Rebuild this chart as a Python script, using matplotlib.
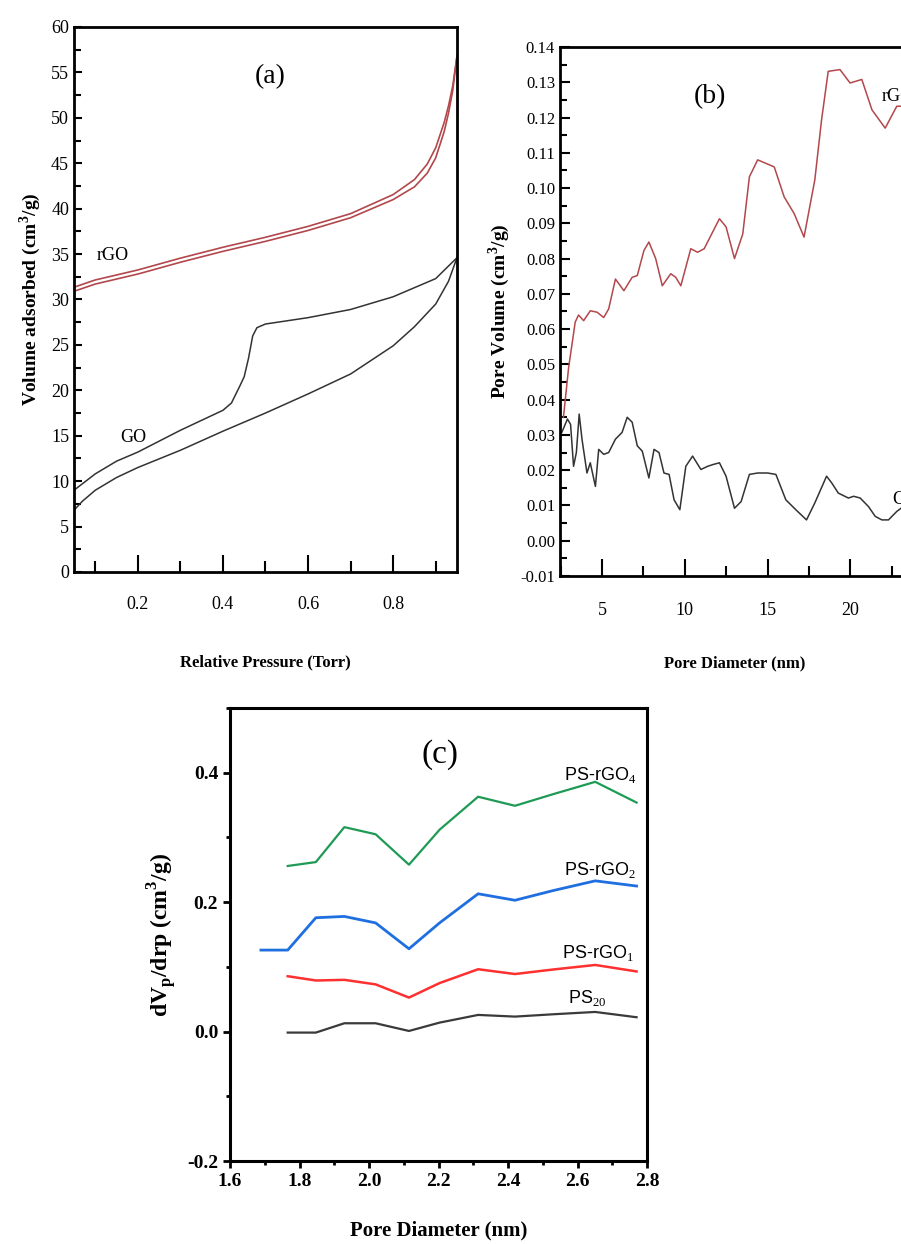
import matplotlib
matplotlib.use("Agg")
import matplotlib.pyplot as plt
from matplotlib.ticker import MultipleLocator

# ---- panel (a): N2 isotherms ----
rgo_x = [0.05, 0.1, 0.2, 0.3, 0.4, 0.5, 0.6, 0.7, 0.8, 0.85, 0.88, 0.9, 0.92, 0.93, 0.94, 0.95]
rgo_ads = [30.9, 31.7, 32.8, 34.1, 35.3, 36.4, 37.6, 39.0, 41.0, 42.4, 43.9, 45.6, 48.5, 50.5, 53.0, 56.8]
rgo_des = [31.35, 32.15, 33.25, 34.55, 35.75, 36.85, 38.05, 39.45, 41.55, 43.2, 44.9, 46.7, 49.5, 51.3, 53.5, 56.8]

go_ads_x = [0.05, 0.07, 0.1, 0.15, 0.2, 0.3, 0.4, 0.5, 0.6, 0.7, 0.8, 0.85, 0.9, 0.93, 0.95]
go_ads = [6.8, 7.8, 9.0, 10.4, 11.5, 13.4, 15.5, 17.5, 19.6, 21.8, 24.9, 27.0, 29.5, 32.0, 34.6]
go_des_x = [0.05, 0.1, 0.15, 0.2, 0.3, 0.4, 0.42, 0.44, 0.45, 0.46, 0.47, 0.48, 0.5, 0.6, 0.7, 0.8, 0.9, 0.95]
go_des = [9.0, 10.8, 12.2, 13.2, 15.6, 17.8, 18.6, 20.5, 21.5, 23.5, 26.0, 26.9, 27.3, 28.0, 28.9, 30.3, 32.3, 34.6]

# ---- panel (b): pore size distribution ----
b_rgo_x = [2.67, 2.98, 3.38, 3.58, 3.89, 4.29, 4.70, 5.1, 5.4, 5.81, 6.32, 6.82, 7.13, 7.53, 7.83,
           8.24, 8.64, 9.15, 9.45, 9.76, 10.36, 10.77, 11.17, 11.58, 12.09, 12.49, 13.0, 13.5, 13.9,
           14.4, 14.9, 15.4, 16.0, 16.6, 17.2, 17.85, 18.26, 18.66, 19.37, 19.98, 20.69, 21.3, 22.1,
           22.8, 23.2]
b_rgo_y = [0.035, 0.049, 0.062, 0.064, 0.0624, 0.0652, 0.0648, 0.0633, 0.0657, 0.0742, 0.0709,
           0.0747, 0.0752, 0.0823, 0.0847, 0.080, 0.0723, 0.0757, 0.0747, 0.0723, 0.0828, 0.0818,
           0.0828, 0.0866, 0.0913, 0.089, 0.080, 0.087, 0.1032, 0.108, 0.107, 0.106, 0.0975, 0.0928,
           0.0861, 0.1023, 0.1194, 0.1331, 0.1336, 0.1298, 0.1308, 0.1222, 0.117, 0.1232, 0.1232]

b_go_x = [2.57, 2.91, 3.1, 3.28, 3.45, 3.62, 3.79, 4.09, 4.29, 4.6, 4.8, 5.1, 5.4, 5.81, 6.21, 6.52,
          6.82, 7.13, 7.43, 7.83, 8.14, 8.44, 8.74, 9.05, 9.35, 9.7, 10.06, 10.47, 10.97, 11.38,
          11.7, 12.09, 12.49, 13.0, 13.4, 13.9, 14.4, 15.0, 15.5, 16.1, 16.7, 17.35, 17.85, 18.56,
          18.87, 19.27, 19.88, 20.2, 20.59, 21.09, 21.5, 21.9, 22.3, 22.8, 23.2]
b_go_y = [0.0307, 0.0345, 0.033, 0.0211, 0.025, 0.0359, 0.0288, 0.0192, 0.0221, 0.0154, 0.0259,
          0.0245, 0.025, 0.0288, 0.0307, 0.035, 0.0336, 0.0269, 0.0254, 0.0178, 0.0259, 0.025,
          0.0192, 0.0188, 0.0116, 0.0088, 0.0211, 0.024, 0.0202, 0.0211, 0.0216, 0.0221, 0.0183,
          0.0092, 0.0111, 0.0188, 0.0192, 0.0192, 0.0188, 0.0116, 0.0088, 0.0059, 0.0107, 0.0183,
          0.0164, 0.0135, 0.0121, 0.0126, 0.0121, 0.0097, 0.0069, 0.0059, 0.0059, 0.0083, 0.0097]

# ---- panel (c): dVp/drp ----
c_x = [1.766, 1.847, 1.929, 2.019, 2.115, 2.203, 2.314, 2.42, 2.53, 2.651, 2.77]
c_x_rgo2 = [1.689] + c_x
ps_rgo4 = [0.256, 0.262, 0.316, 0.305, 0.258, 0.312, 0.363, 0.349, 0.367, 0.386, 0.354]
ps_rgo2 = [0.126, 0.126, 0.176, 0.178, 0.168, 0.128, 0.168, 0.213, 0.203, 0.218, 0.233, 0.225]
ps_rgo1 = [0.0856, 0.079, 0.080, 0.073, 0.0526, 0.075, 0.0964, 0.089, 0.096, 0.103, 0.093]
ps20 = [-0.0015, -0.0015, 0.0129, 0.0129, 0.001, 0.0139, 0.0258, 0.0232, 0.0268, 0.0304, 0.0222]

SERIF = "Liberation Serif"
SANS = ["Liberation Sans Narrow", "Liberation Sans", "DejaVu Sans"]
plt.rcParams["font.family"] = [SERIF, "DejaVu Serif"]
plt.rcParams["axes.unicode_minus"] = False
plt.rcParams["mathtext.fontset"] = "custom"
plt.rcParams["mathtext.rm"] = SERIF
plt.rcParams["mathtext.bf"] = SERIF + ":bold"

fig = plt.figure(figsize=(9.01, 12.44), dpi=100)

# ----- (a) -----
ax_a = fig.add_axes([0.0821, 0.5402, 0.4251, 0.4381])
rgo_col = "#b2474c"
ax_a.plot(rgo_x, rgo_ads, color=rgo_col, lw=1.2)
ax_a.plot(rgo_x, rgo_des, color=rgo_col, lw=1.2)
ax_a.plot(go_ads_x, go_ads, color="#333333", lw=1.1)
ax_a.plot(go_des_x, go_des, color="#333333", lw=1.1)
ax_a.set_xlim(0.05, 0.95)
ax_a.set_ylim(0, 60)
ax_a.xaxis.set_major_locator(MultipleLocator(0.2))
ax_a.xaxis.set_minor_locator(MultipleLocator(0.1))
ax_a.yaxis.set_major_locator(MultipleLocator(5))
ax_a.yaxis.set_minor_locator(MultipleLocator(2.5))
ax_a.tick_params(axis="x", which="major", direction="in", length=12, width=1.5, labelsize=13, pad=17)
ax_a.tick_params(axis="x", which="minor", direction="in", length=8, width=1.5)
ax_a.tick_params(axis="y", which="major", direction="in", length=6, width=1.5, labelsize=13)
ax_a.tick_params(axis="y", which="minor", direction="in", length=5, width=1.5)
ax_a.set_xticks([0.2, 0.4, 0.6, 0.8])
ax_a.set_xticklabels(["0.2", "0.4", "0.6", "0.8"])
for s in ax_a.spines.values():
    s.set_linewidth(2)
ax_a.text(0.51, 54.5, "(a)", fontsize=20, ha="center", va="center")
ax_a.text(0.14, 34.8, "rGO", fontsize=13, ha="center", va="center")
ax_a.text(0.19, 14.8, "GO", fontsize=13, ha="center", va="center")
ax_a.set_xlabel("Relative Pressure (Torr)", fontsize=12, fontweight="bold", labelpad=30)
ax_a.set_ylabel("Volume adsorbed (cm$^\\mathbf{3}$/g)", fontsize=14, fontweight="bold", labelpad=6)

# ----- (b) -----
ax_b = fig.add_axes([0.6215, 0.5370, 0.3885, 0.4252])
ax_b.plot(b_rgo_x, b_rgo_y, color="#b2474c", lw=1.1)
ax_b.plot(b_go_x, b_go_y, color="#333333", lw=1.1)
ax_b.set_xlim(2.46, 23.6)
ax_b.set_ylim(-0.01, 0.14)
ax_b.xaxis.set_major_locator(MultipleLocator(5))
ax_b.xaxis.set_minor_locator(MultipleLocator(2.5))
ax_b.yaxis.set_major_locator(MultipleLocator(0.01))
ax_b.yaxis.set_minor_locator(MultipleLocator(0.005))
ax_b.yaxis.set_major_formatter(plt.FuncFormatter(lambda v, p: f"{v:.2f}"))
ax_b.tick_params(axis="x", which="major", direction="in", length=12, width=1.5, labelsize=13, pad=19)
ax_b.tick_params(axis="x", which="minor", direction="in", length=7, width=1.5)
ax_b.tick_params(axis="y", which="major", direction="in", length=7, width=1.5, labelsize=12)
ax_b.tick_params(axis="y", which="minor", direction="in", length=5, width=1.5)
for s in ax_b.spines.values():
    s.set_linewidth(2)
ax_b.text(11.5, 0.126, "(b)", fontsize=20, ha="center", va="center")
ax_b.text(21.9, 0.126, "rGO", fontsize=13, ha="left", va="center")
ax_b.text(22.5, 0.0116, "GO", fontsize=13, ha="left", va="center")
ax_b.set_xlabel("Pore Diameter (nm)", fontsize=12, fontweight="bold", labelpad=26)
ax_b.set_ylabel("Pore Volume (cm$^\\mathbf{3}$/g)", fontsize=14, fontweight="bold", labelpad=6)

# ----- (c) -----
ax_c = fig.add_axes([0.2553, 0.0667, 0.4628, 0.3641])
ax_c.plot(c_x, ps_rgo4, color="#1f9a55", lw=1.6)
ax_c.plot(c_x_rgo2, ps_rgo2, color="#1f6fe0", lw=2.0)
ax_c.plot(c_x, ps_rgo1, color="#ff3030", lw=1.8)
ax_c.plot(c_x, ps20, color="#3a3a3a", lw=1.6)
ax_c.set_xlim(1.6, 2.8)
ax_c.set_ylim(-0.2, 0.5)
ax_c.xaxis.set_major_locator(MultipleLocator(0.2))
ax_c.xaxis.set_minor_locator(MultipleLocator(0.1))
ax_c.yaxis.set_major_locator(MultipleLocator(0.2))
ax_c.yaxis.set_minor_locator(MultipleLocator(0.1))
ax_c.set_yticks([-0.2, 0.0, 0.2, 0.4])
ax_c.tick_params(which="major", direction="out", length=5, width=2, labelsize=14)
ax_c.tick_params(which="minor", direction="out", length=3, width=2)
for lab in ax_c.get_xticklabels() + ax_c.get_yticklabels():
    lab.set_fontweight("bold")
for s in ax_c.spines.values():
    s.set_linewidth(2.2)
ax_c.text(2.203, 0.428, "(c)", fontsize=24, ha="center", va="center")
ax_c.text(2.665, 0.397, "PS-rGO$_4$", fontsize=13, ha="center", va="center", family=SANS)
ax_c.text(2.665, 0.250, "PS-rGO$_2$", fontsize=13, ha="center", va="center", family=SANS)
ax_c.text(2.66, 0.122, "PS-rGO$_1$", fontsize=13, ha="center", va="center", family=SANS)
ax_c.text(2.627, 0.0515, "PS$_{20}$", fontsize=13, ha="center", va="center", family=SANS)
ax_c.set_xlabel("Pore Diameter (nm)", fontsize=15, fontweight="bold", labelpad=22)
ax_c.set_ylabel("dV$_\\mathbf{p}$/drp (cm$^\\mathbf{3}$/g)", fontsize=17, fontweight="bold", labelpad=6)

fig.savefig("out.png", dpi=100)
